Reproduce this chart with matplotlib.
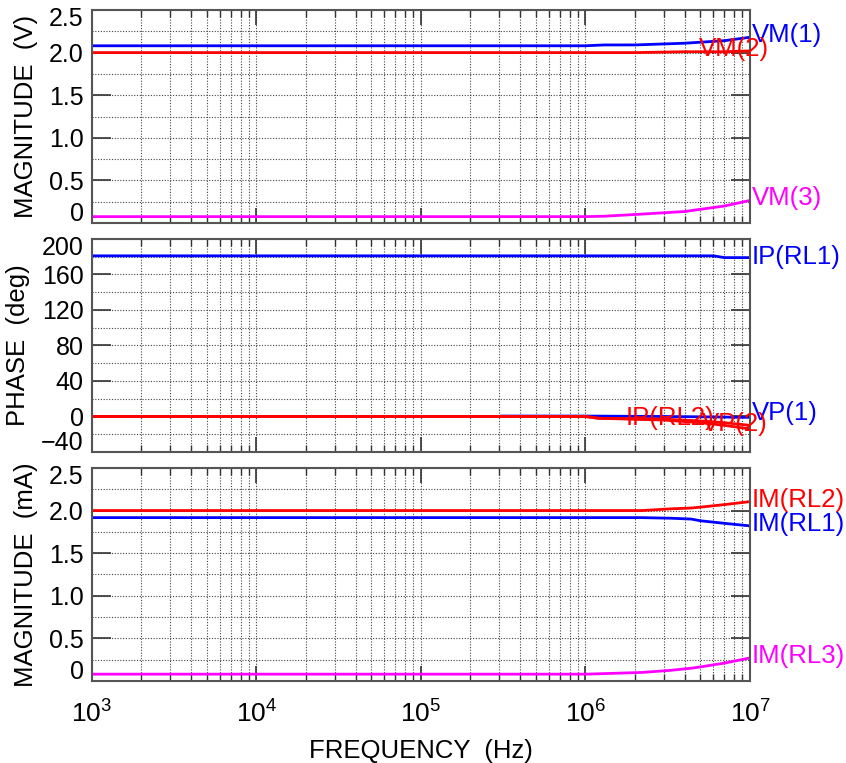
import numpy as np
import matplotlib
matplotlib.use("Agg")
from matplotlib import pyplot as plt
from matplotlib.ticker import LogLocator, MultipleLocator, NullFormatter
from matplotlib.transforms import ScaledTranslation

plt.rcParams['font.family'] = ['Liberation Sans', 'DejaVu Sans']
plt.rcParams['mathtext.fontset'] = 'custom'
plt.rcParams['mathtext.rm'] = 'Liberation Sans'

AZUL = '#0000ff'
VERMELHO = '#ff0000'
MAGENTA = '#ff00ff'

# magnitudes de tensao (V)
f_vm = [1e3, 1e4, 1e5, 1e6, 1.3e6, 2e6, 4e6, 7e6, 1e7]
vm1 = [2.08, 2.08, 2.08, 2.08, 2.09, 2.09, 2.11, 2.14, 2.18]
vm2 = [2.0, 2.0, 2.0, 2.0, 2.0, 2.0, 2.01, 2.01, 2.02]
vm3 = [0.075, 0.075, 0.075, 0.075, 0.08, 0.1, 0.135, 0.2, 0.265]

# fases (graus)
f_ip1 = [1e3, 1e4, 1e5, 1e6, 6e6, 7e6, 1e7]
ip_rl1 = [181, 181, 181, 181, 181, 179, 179]
f_vp1 = [3.1e5, 1e6, 3e6, 6e6, 1e7]
vp1 = [0.5, 0.5, 0.0, -0.5, -1.0]
f_fase = [1e3, 1e4, 1e5, 1e6, 1.2e6, 3e6, 5e6, 7e6, 1e7]
ip_rl2 = [0, 0, 0, 0, -2, -3, -5, -7, -10]
vp2 = [0, 0, 0, 0, -2, -4, -7, -10, -14]

# magnitudes de corrente (mA)
f_im = [1e3, 1e4, 1e5, 1e6, 2.2e6, 3.3e6, 4.4e6, 5e6, 7e6, 1e7]
im_rl2 = [2.0, 2.0, 2.0, 2.0, 2.0, 2.02, 2.03, 2.04, 2.07, 2.105]
im_rl1 = [1.917, 1.917, 1.917, 1.917, 1.917, 1.91, 1.9, 1.88, 1.85, 1.82]
im_rl3 = [0.08, 0.08, 0.08, 0.08, 0.1, 0.125, 0.15, 0.165, 0.21, 0.27]

mag_ticks = [0, 0.5, 1.0, 1.5, 2.0, 2.5]
mag_labels = ['0', '0.5', '1.0', '1.5', '2.0', '2.5']
fase_ticks = [-40, 0, 40, 80, 120, 160, 200]

FS_TICK = 18
FS_LABEL = 18.5
FS_SERIE = 18.5


def formata_eixo(ax):
    ax.set_xscale('log')
    ax.set_xlim(1e3, 1e7)
    ax.xaxis.set_major_locator(LogLocator(base=10, numticks=10))
    ax.xaxis.set_minor_locator(LogLocator(base=10, subs=np.arange(2, 10), numticks=20))
    ax.xaxis.set_minor_formatter(NullFormatter())
    for s in ax.spines.values():
        s.set_color('#555555')
        s.set_linewidth(1.5)
    ax.tick_params(which='both', direction='in', top=True, right=True,
                   color='#333333', labelsize=FS_TICK, pad=6)
    ax.tick_params(axis='y', which='major', length=14, width=1.2)
    ax.tick_params(axis='y', which='minor', length=0)
    ax.tick_params(axis='x', which='major', length=11, width=1.2)
    ax.tick_params(axis='x', which='minor', length=5, width=1.0)
    ax.grid(True, which='both', linestyle=(0, (1, 1.5)), color='#444444', linewidth=0.8)


def recolhe_extremos(ax, fig):
    # rotulos das pontas ficam para dentro da faixa do eixo
    labs = ax.get_yticklabels()
    labs[0].set_transform(labs[0].get_transform() + ScaledTranslation(0, 8 / 72, fig.dpi_scale_trans))
    labs[-1].set_transform(labs[-1].get_transform() + ScaledTranslation(0, -5 / 72, fig.dpi_scale_trans))


fig = plt.figure(figsize=(8.46, 7.63), dpi=100)
esq, larg, alt = 0.1087, 0.7778, 0.2792
ax1 = fig.add_axes([esq, 0.7077, larg, alt])
ax2 = fig.add_axes([esq, 0.4076, larg, alt])
ax3 = fig.add_axes([esq, 0.1075, larg, alt])

lw = 2.0

# painel 1: tensoes
ax1.plot(f_vm, vm1, color=AZUL, lw=lw)
ax1.plot(f_vm, vm2, color=VERMELHO, lw=lw)
ax1.plot(f_vm, vm3, color=MAGENTA, lw=lw)
formata_eixo(ax1)
ax1.set_ylim(0, 2.5)
ax1.set_yticks(mag_ticks, mag_labels)
ax1.yaxis.set_minor_locator(MultipleLocator(0.25))
ax1.set_xticklabels([])
ax1.set_ylabel('MAGNITUDE  (V)', fontsize=FS_LABEL, labelpad=8)
ax1.text(1.02e7, 2.21, 'VM(1)', color=AZUL, fontsize=FS_SERIE, va='center', ha='left')
ax1.text(4.9e6, 2.04, 'VM(2)', color=VERMELHO, fontsize=FS_SERIE, va='center', ha='left')
ax1.text(1.02e7, 0.29, 'VM(3)', color=MAGENTA, fontsize=FS_SERIE, va='center', ha='left')

# painel 2: fases
ax2.plot(f_ip1, ip_rl1, color=AZUL, lw=lw)
ax2.plot(f_vp1, vp1, color=AZUL, lw=lw)
ax2.plot(f_fase, ip_rl2, color=VERMELHO, lw=lw)
ax2.plot(f_fase, vp2, color=VERMELHO, lw=lw)
formata_eixo(ax2)
ax2.set_ylim(-40, 200)
ax2.set_yticks(fase_ticks)
ax2.yaxis.set_minor_locator(MultipleLocator(20))
ax2.set_xticklabels([])
ax2.set_ylabel('PHASE  (deg)', fontsize=FS_LABEL, labelpad=8)
ax2.text(1.02e7, 180, 'IP(RL1)', color=AZUL, fontsize=FS_SERIE, va='center', ha='left')
ax2.text(1.02e7, 4, 'VP(1)', color=AZUL, fontsize=FS_SERIE, va='center', ha='left')
ax2.text(1.75e6, -2, 'IP(RL2)', color=VERMELHO, fontsize=FS_SERIE, va='center', ha='left')
ax2.text(5.1e6, -8, 'VP(2)', color=VERMELHO, fontsize=FS_SERIE, va='center', ha='left')

# painel 3: correntes
ax3.plot(f_im, im_rl2, color=VERMELHO, lw=lw)
ax3.plot(f_im, im_rl1, color=AZUL, lw=lw)
ax3.plot(f_im, im_rl3, color=MAGENTA, lw=lw)
formata_eixo(ax3)
ax3.set_ylim(0, 2.5)
ax3.set_yticks(mag_ticks, mag_labels)
ax3.yaxis.set_minor_locator(MultipleLocator(0.25))
ax3.set_ylabel('MAGNITUDE  (mA)', fontsize=FS_LABEL, labelpad=8)
ax3.set_xlabel('FREQUENCY  (Hz)', fontsize=FS_LABEL, labelpad=8)
ax3.tick_params(axis='x', which='major', labelsize=19, pad=14)
ax3.text(1.02e7, 2.12, 'IM(RL2)', color=VERMELHO, fontsize=FS_SERIE, va='center', ha='left')
ax3.text(1.02e7, 1.84, 'IM(RL1)', color=AZUL, fontsize=FS_SERIE, va='center', ha='left')
ax3.text(1.02e7, 0.29, 'IM(RL3)', color=MAGENTA, fontsize=FS_SERIE, va='center', ha='left')

for ax in (ax1, ax2, ax3):
    recolhe_extremos(ax, fig)

fig.align_ylabels([ax1, ax2, ax3])
plt.savefig('out.png', dpi=100, facecolor='white')
